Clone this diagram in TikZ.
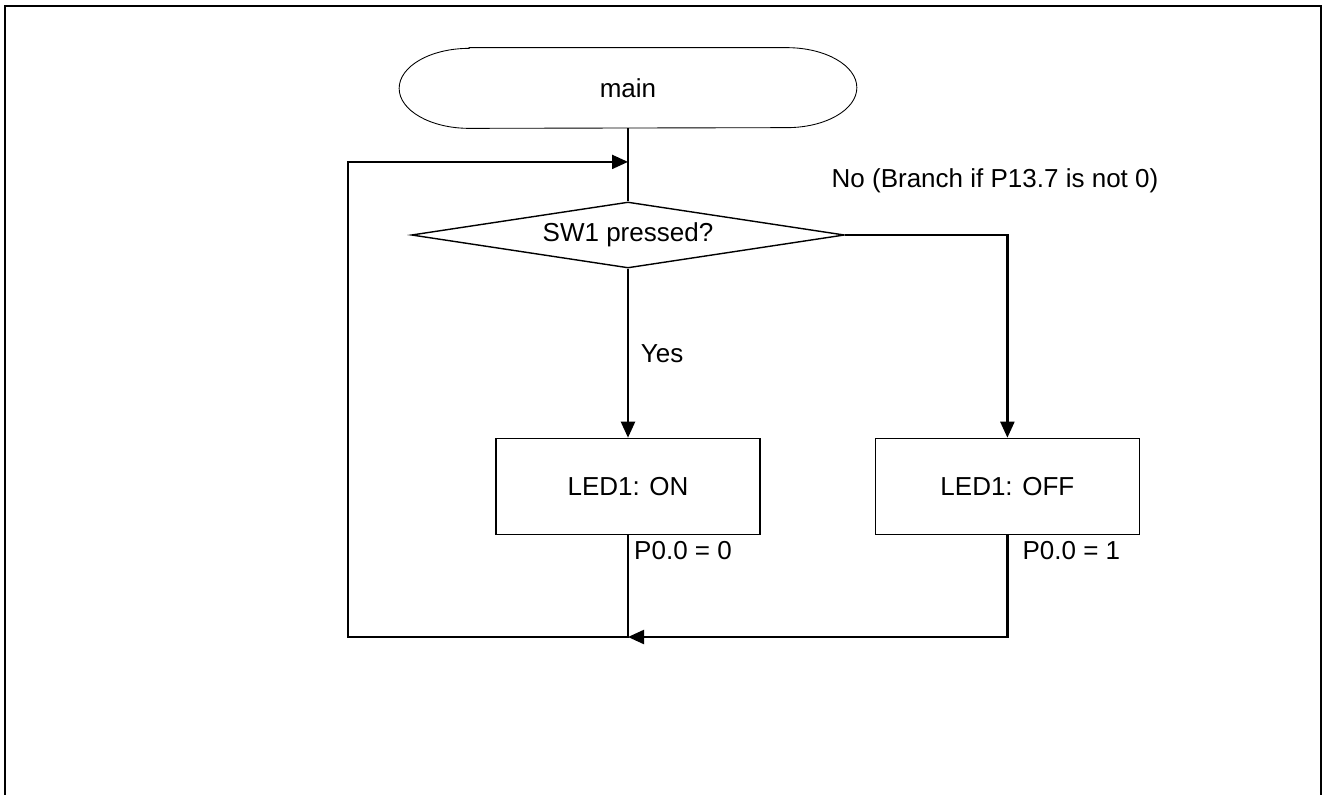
\documentclass[tikz,border=0pt]{standalone}
\usepackage{fontspec}
\setmainfont{Liberation Sans}
\usetikzlibrary{positioning,calc,shapes.geometric,arrows.meta}

\begin{document}
\begin{tikzpicture}[
	every node/.append style={font=\fontsize{14.8}{17}\selectfont},
	terminal/.style={minimum width=9.14cm,minimum height=1.6cm},
	decision/.style={draw,line width=0.8pt,diamond,aspect=6.5,inner sep=0pt,minimum width=8.66cm,minimum height=1.32cm},
	procbox/.style={draw,line width=0.8pt,minimum width=5.28cm,minimum height=1.92cm},
	flow/.style={line width=1.25pt},
	flowarrow/.style={flow,-{Triangle[length=3.2mm,width=2.8mm]}}
	]
			\useasboundingbox (0,0) rectangle (26.46,-15.9);
			\draw[line width=1.1pt] (0.1,-15.9) -- (0.1,-0.12) -- (26.42,-0.12) -- (26.42,-15.9);
			%
			\node[terminal] (main) at (12.56,-1.76) {main};
			\draw[line width=0.5pt] ($(main.north west)+(1.4,0)$) -- ($(main.north east)+(-1.4,0)$)
				arc[start angle=90,end angle=-90,x radius=1.4cm,y radius=0.8cm]
				-- ($(main.south west)+(1.4,0)$)
				arc[start angle=270,end angle=90,x radius=1.4cm,y radius=0.8cm] -- cycle;
			\node[decision] (sw) at (12.56,-4.7) {SW1 pressed?};
			\node[procbox, below=3.38cm of sw] (on) {LED1: ON};
			\node[procbox, right=2.28cm of on] (off) {LED1: OFF};
			\node (nolbl) at (19.9,-3.62) {No (Branch if P13.7 is not 0)};
			\coordinate (join) at ($(main.south)!0.46!(sw.north)$);
			\coordinate (merge) at (12.56,-12.74);
			\coordinate (corner) at (6.96,-12.74);
			%
			\draw[flow] (main) -- (sw);
			\draw[flowarrow] (sw) -- node[right,xshift=0.12cm] {Yes} (on);
			\draw[flowarrow] (sw.east) -| (off.north);
			\draw[flowarrow] (on.south) -- (merge) -- (corner) |- (join);
			\draw[flowarrow] (off.south) |- (merge);
			\node[anchor=north west] (p0on) at (on.south) {P0.0 = 0};
			\node[anchor=north west,xshift=0.18cm] (p0off) at (off.south) {P0.0 = 1};
\end{tikzpicture}
\end{document}
